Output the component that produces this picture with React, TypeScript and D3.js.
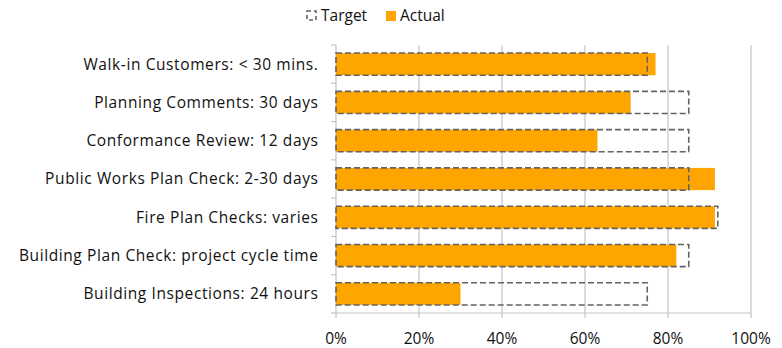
import React from "react";
import * as d3 from "d3";

const categories = [
  "Walk-in Customers: < 30 mins.",
  "Planning Comments: 30 days",
  "Conformance Review: 12 days",
  "Public Works Plan Check: 2-30 days",
  "Fire Plan Checks: varies",
  "Building Plan Check: project cycle time",
  "Building Inspections: 24 hours",
];
const targetValues = [0.75, 0.85, 0.85, 0.85, 0.92, 0.85, 0.75];
const actualValues = [0.77, 0.71, 0.63, 0.913, 0.913, 0.82, 0.3];
const xTicks = [0, 0.2, 0.4, 0.6, 0.8, 1.0];
const legendLabels = ["Target", "Actual"];

const W = 782;
const H = 348;
const M = { left: 336, right: 31, top: 45, bottom: 35 };
const FONT = "'Open Sans', sans-serif";
const ORANGE = "#FFA500";
const DASH = "#636363";

export default function App() {
  const x = d3.scaleLinear().domain([0, 1]).range([M.left, W - M.right]);
  const y = d3
    .scaleBand<string>()
    .domain(categories)
    .range([M.top, H - M.bottom])
    .paddingInner(0.42)
    .paddingOuter(0.21);
  const bottom = H - M.bottom;
  const step = y.step();
  const bounds = categories.map((_, i) => M.top + i * step).concat([bottom]);

  return (
    <svg
      width={W}
      height={H}
      style={{ position: "absolute", left: 0, top: 0, background: "#fff" }}
      fontFamily={FONT}
    >
      {/* gridlines */}
      {xTicks.slice(1).map((t) => (
        <line key={"g" + t} x1={x(t)} x2={x(t)} y1={M.top} y2={bottom + 5} stroke="#c4c4c4" strokeWidth={1.2} />
      ))}
      {/* bottom axis */}
      <line x1={x(0)} x2={x(1)} y1={bottom} y2={bottom} stroke="#c4c4c4" strokeWidth={1.2} />
      <line x1={x(0)} x2={x(0)} y1={bottom} y2={bottom + 5} stroke="#c4c4c4" strokeWidth={1.2} />
      {/* left axis */}
      <line x1={x(0)} x2={x(0)} y1={M.top} y2={bottom} stroke="#c4c4c4" strokeWidth={1.2} />
      {bounds.map((b, i) => (
        <line key={"t" + i} x1={x(0) - 5} x2={x(0)} y1={b} y2={b} stroke="#c4c4c4" strokeWidth={1.2} />
      ))}
      {/* actual bars */}
      {categories.map((c, i) => (
        <rect key={"a" + c} x={x(0)} y={y(c)} width={x(actualValues[i]) - x(0)} height={y.bandwidth()} fill={ORANGE} />
      ))}
      {/* target outlines */}
      {categories.map((c, i) => (
        <rect
          key={"tg" + c}
          x={x(0)}
          y={y(c)}
          width={x(targetValues[i]) - x(0)}
          height={y.bandwidth()}
          fill="none"
          stroke={DASH}
          strokeWidth={1.6}
          strokeDasharray="6,3"
        />
      ))}
      {/* category labels */}
      {categories.map((c) => (
        <text
          key={"l" + c}
          x={x(0) - 17.5}
          y={(y(c) as number) + y.bandwidth() / 2}
          dy="0.35em"
          textAnchor="end"
          fontSize={15.5}
          letterSpacing={0.6}
          fill="#111"
        >
          {c}
        </text>
      ))}
      {/* x tick labels */}
      {xTicks.map((t) => (
        <text key={"xl" + t} x={x(t)} y={bottom + 26} dy="0.35em" textAnchor="middle" fontSize={15.5} fill="#111">
          {d3.format(".0%")(t)}
        </text>
      ))}
      {/* legend */}
      <g>
        <rect x={307} y={11} width={9} height={9} fill="none" stroke={DASH} strokeWidth={1.6} strokeDasharray="4,3" />
        <text x={321} y={16} dy="0.35em" fontSize={15.5} fill="#111">{legendLabels[0]}</text>
        <rect x={386} y={11} width={10} height={10} fill={ORANGE} />
        <text x={400} y={16} dy="0.35em" fontSize={15.5} fill="#111">{legendLabels[1]}</text>
      </g>
    </svg>
  );
}
